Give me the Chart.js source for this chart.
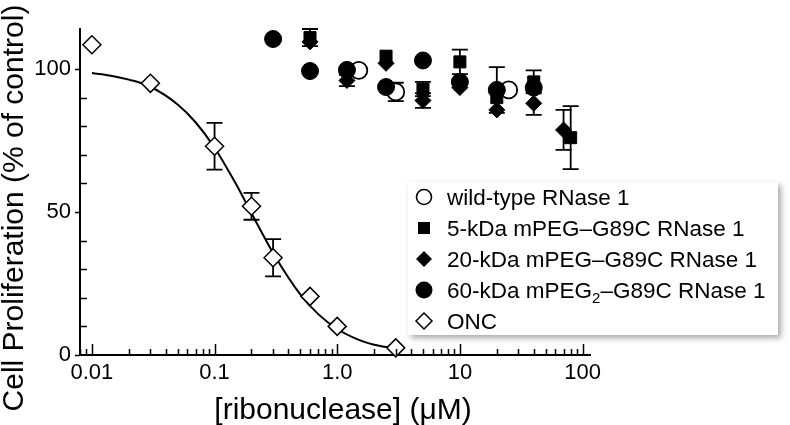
<!DOCTYPE html>
<html>
<head>
<meta charset="utf-8">
<script src="https://cdn.jsdelivr.net/npm/chart.js@4.4.1/dist/chart.umd.min.js"></script>
<style>
    body { margin: 0; background: #fff; font-family: 'Liberation Sans', Arial, sans-serif; }
    #wrap { position: relative; width: 790px; height: 425px; }
    #legend {
        position: absolute; left: 408px; top: 182px; width: 370px; height: 153px;
        background: #fff; box-shadow: 3px 3px 6px rgba(0, 0, 0, 0.35);
        font-size: 22.5px; color: #000;
    }
    .row { height: 31px; line-height: 31px; white-space: nowrap; position: relative; }
    .row svg { position: absolute; left: 6px; top: 5px; }
    .row span { position: absolute; left: 39px; top: 0; }
    .row sub { font-size: 15px; vertical-align: -5px; line-height: 0; }
</style>
</head>
<body>
<div id="wrap">
    <canvas id="chart" width="790" height="425"></canvas>
    <div id="legend"></div>
</div>
<script>
// axis ticks
const xTicks = [0.01, 0.1, 1, 10, 100];
const xTickLabels = ['0.01', '0.1', '1.0', '10', '100'];
const yTicks = [0, 50, 100];

// series (concentration in uM, proliferation in % of control, error +/-)
const oncX = [0.01, 0.03, 0.1, 0.2, 0.3, 0.6, 1.0, 3.0];
const oncY = [108.5, 95, 73, 52, 34, 20.5, 10, 2.5];
const oncErr = [0, 0, 8.2, 4.7, 6.5, 0, 0, 0];

const fitX = [0.01, 0.015, 0.02, 0.03, 0.05, 0.07, 0.1, 0.15, 0.2, 0.3, 0.5, 0.7, 1.0, 1.5, 2.0, 3.0];
const fitY = [98.6, 97.5, 96.3, 93.8, 87.6, 81.4, 72.5, 59.7, 49.6, 35.7, 21.2, 14.3, 9.1, 5.3, 3.6, 2.3];

const wtX = [1.5, 3, 25];
const wtY = [99.5, 92, 92.7];
const wtErr = [0, 3.2, 0];

const peg5X = [0.6, 2.5, 5, 10, 20, 40, 80];
const peg5Y = [111, 104.5, 93, 102.5, 90, 95.5, 76];
const peg5Err = [3, 0, 2.5, 4.3, 0, 4, 11];

const peg20X = [0.6, 1.2, 2.5, 5, 10, 20, 40, 70];
const peg20Y = [109.5, 96, 102, 89, 93.5, 85.7, 88, 78.7];
const peg20Err = [0, 2, 0, 2.6, 0, 0, 4, 7];

const peg60X = [0.3, 0.6, 1.2, 2.5, 5, 10, 20, 40];
const peg60Y = [110.5, 99.3, 99.7, 93.7, 103, 95.5, 92.7, 93.5];
const peg60Err = [0, 0, 0, 0, 0, 0, 8, 0];

const seriesNames = [
    'wild-type RNase 1',
    '5-kDa mPEG–G89C RNase 1',
    '20-kDa mPEG–G89C RNase 1',
    '60-kDa mPEG<sub>2</sub>–G89C RNase 1',
    'ONC'
];

const pts = (xs, ys) => xs.map((x, i) => ({ x: x, y: ys[i] }));

// error bars drawn under the symbols
const errorBars = {
    id: 'errorBars',
    beforeDatasetsDraw(chart) {
        const { ctx, scales: { x, y } } = chart;
        ctx.save();
        ctx.strokeStyle = '#000';
        ctx.lineWidth = 1.8;
        chart.data.datasets.forEach(ds => {
            if (!ds.errors) return;
            ds.data.forEach((p, i) => {
                const e = ds.errors[i];
                if (!e) return;
                const px = x.getPixelForValue(p.x);
                const top = y.getPixelForValue(p.y + e);
                const bot = y.getPixelForValue(p.y - e);
                ctx.beginPath();
                ctx.moveTo(px, top); ctx.lineTo(px, bot);
                ctx.moveTo(px - 8, top); ctx.lineTo(px + 8, top);
                ctx.moveTo(px - 8, bot); ctx.lineTo(px + 8, bot);
                ctx.stroke();
            });
        });
        ctx.restore();
    }
};

// tick marks and axis titles
const axisMarks = {
    id: 'axisMarks',
    afterDraw(chart) {
        const { ctx, scales: { x, y }, chartArea } = chart;
        ctx.save();
        ctx.strokeStyle = '#000';
        ctx.lineWidth = 1.5;
        ctx.beginPath();
        // x: major ticks long, minor short, both pointing inward
        for (let d = 0.001; d < 1000; d *= 10) {
            for (let k = 1; k < 10; k++) {
                const v = k * d;
                if (v < x.min || v > x.max) continue;
                const px = Math.round(x.getPixelForValue(v)) + 0.5;
                ctx.moveTo(px, chartArea.bottom);
                ctx.lineTo(px, chartArea.bottom - (k === 1 ? 11 : 6));
            }
        }
        // y: major outward, minor inward
        for (let v = 10; v < 100; v += 10) {
            const py = Math.round(y.getPixelForValue(v)) + 0.5;
            if (v % 50 === 0) continue;
            ctx.moveTo(chartArea.left, py);
            ctx.lineTo(chartArea.left + 7, py);
        }
        yTicks.forEach(v => {
            const py = Math.round(y.getPixelForValue(v)) + 0.5;
            ctx.moveTo(chartArea.left, py);
            ctx.lineTo(chartArea.left - 5, py);
        });
        ctx.stroke();

        ctx.fillStyle = '#000';
        ctx.font = "30px 'Liberation Sans', Arial, sans-serif";
        ctx.textAlign = 'center';
        ctx.textBaseline = 'middle';
        ctx.fillText('[ribonuclease] (μM)', 343, 411);
        ctx.translate(15, 208);
        ctx.rotate(-Math.PI / 2);
        ctx.fillText('Cell Proliferation (% of control)', 0, 0);
        ctx.restore();
    }
};

const ctx = document.getElementById('chart');
new Chart(ctx, {
    type: 'scatter',
    data: {
        datasets: [
            {
                label: seriesNames[3], data: pts(peg60X, peg60Y), errors: peg60Err,
                pointStyle: 'circle', pointRadius: 8.5, backgroundColor: '#000', borderColor: '#000', borderWidth: 1
            },
            {
                label: seriesNames[2], data: pts(peg20X, peg20Y), errors: peg20Err,
                pointStyle: 'rectRot', pointRadius: 8, backgroundColor: '#000', borderColor: '#000', borderWidth: 1
            },
            {
                label: seriesNames[1], data: pts(peg5X, peg5Y), errors: peg5Err,
                pointStyle: 'rect', pointRadius: 8.5, backgroundColor: '#000', borderColor: '#000', borderWidth: 1
            },
            {
                label: seriesNames[0], data: pts(wtX, wtY), errors: wtErr,
                pointStyle: 'circle', pointRadius: 8.5, backgroundColor: '#fff', borderColor: '#000', borderWidth: 1.8
            },
            {
                label: seriesNames[4], data: pts(oncX, oncY), errors: oncErr,
                pointStyle: 'rectRot', pointRadius: 9, backgroundColor: '#fff', borderColor: '#000', borderWidth: 1.5
            },
            {
                label: 'fit', data: pts(fitX, fitY), showLine: true, pointRadius: 0,
                borderColor: '#000', borderWidth: 2, cubicInterpolationMode: 'monotone'
            }
        ]
    },
    options: {
        responsive: false,
        animation: false,
        devicePixelRatio: 1,
        clip: false,
        layout: { padding: { left: 0, right: 200, top: 29, bottom: 0 } },
        plugins: { legend: { display: false }, tooltip: { enabled: false } },
        scales: {
            x: {
                type: 'logarithmic',
                min: 0.008,
                max: 115,
                grid: { display: false, drawTicks: false },
                border: { display: true, color: '#000', width: 2 },
                afterBuildTicks: scale => { scale.ticks = xTicks.map(v => ({ value: v })); },
                afterFit: scale => { scale.height = 70; },
                ticks: {
                    color: '#000',
                    padding: 5,
                    maxRotation: 0,
                    autoSkip: false,
                    font: { family: "'Liberation Sans', Arial, sans-serif", size: 22 },
                    callback: (v, i) => xTickLabels[i]
                }
            },
            y: {
                min: 0,
                max: 114,
                grid: { display: false, drawTicks: false },
                border: { display: true, color: '#000', width: 2 },
                afterBuildTicks: scale => { scale.ticks = yTicks.map(v => ({ value: v })); },
                afterFit: scale => { scale.width = 80; },
                ticks: {
                    color: '#000',
                    padding: 9,
                    font: { family: "'Liberation Sans', Arial, sans-serif", size: 22 }
                }
            }
        }
    },
    plugins: [errorBars, axisMarks]
});

// legend
const symbols = [
    '<circle cx="10" cy="10" r="7.5" fill="#fff" stroke="#000" stroke-width="1.6"/>',
    '<rect x="4" y="4" width="12" height="12" fill="#000"/>',
    '<polygon points="10,2 18,10 10,18 2,10" fill="#000"/>',
    '<circle cx="10" cy="10" r="8.5" fill="#000"/>',
    '<polygon points="10,2 18,10 10,18 2,10" fill="#fff" stroke="#000" stroke-width="1.5"/>'
];
const legend = document.getElementById('legend');
seriesNames.forEach((name, i) => {
    const row = document.createElement('div');
    row.className = 'row';
    row.innerHTML = '<svg width="20" height="20" viewBox="0 0 20 20">' + symbols[i] + '</svg><span>' + name + '</span>';
    legend.appendChild(row);
});
</script>
</body>
</html>
